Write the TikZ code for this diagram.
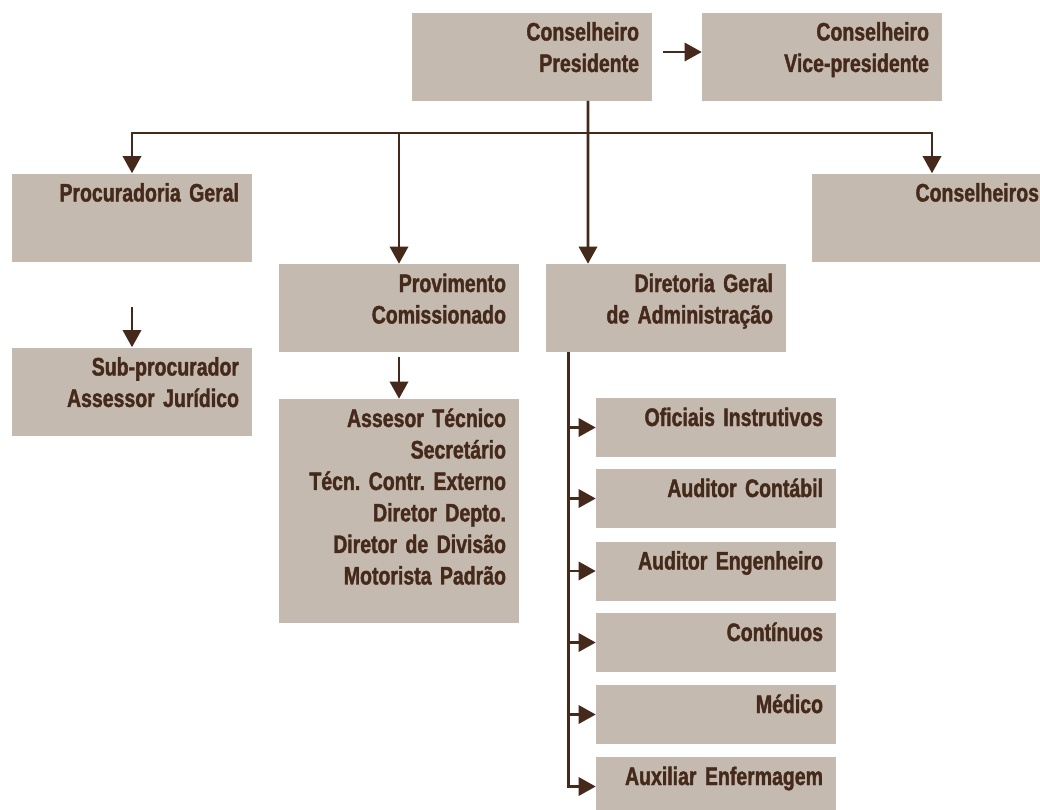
\documentclass[tikz,border=0pt]{standalone}
\usepackage{fontspec}
\usepackage{tikz}
\usetikzlibrary{arrows.meta, positioning, calc}
\newfontfamily\orgfont{Liberation Sans}[FakeStretch=0.77, FakeBold=1.5]
\newcommand{\orgstyle}{\orgfont\bfseries\fontsize{18}{22.4}\selectfont\frenchspacing\setlength{\spaceskip}{0.2em}}
\definecolor{boxfill}{HTML}{C4BAB0}
\definecolor{inkbrown}{HTML}{45291A}

\begin{document}
\begin{tikzpicture}[
    box/.style={
        fill=boxfill,
        text=inkbrown,
        font=\orgstyle,
        align=right,
        text width=5.35cm,
        inner xsep=0.325cm,
        inner ysep=0pt,
        text height=0.7cm,
        text depth=1.5cm
    },
    smallbox/.style={
        box,
        text depth=0.775cm
    },
    arrow/.style={
        -{Triangle[length=0.43cm, width=0.46cm]},
        line width=1.8pt,
        color=inkbrown
    }
]
\useasboundingbox (0,0) rectangle (26,-20.225);

% Top row
\node[box] (pres) at (13.3, -1.4125) {Conselheiro\\Presidente};
\node[box] (vice) at (20.55, -1.4125) {Conselheiro\\Vice-presidente};

% Second row
\node[box] (proc) at (3.3, -5.4375) {Procuradoria Geral};
\node[box] (cons) at (23.3, -5.4375) {Conselheiros};
\node[box] (prov) at (9.975, -7.7) {Provimento\\Comissionado};
\node[box] (dir) at (16.65, -7.7) {Diretoria Geral\\de Administração};

% Lower boxes
\node[box] (sub) at (3.3, -9.7875) {Sub-procurador\\Assessor Jurídico};
\node[box, text depth=4.9cm] (ases) at (9.975, -12.775) {
    Assesor Técnico\\
    Secretário\\
    Técn. Contr. Externo\\
    Diretor Depto.\\
    Diretor de Divisão\\
    Motorista Padrão
};

% Diretoria (Right Column)
\node[smallbox] (c1) at (17.9, -10.6875) {Oficiais Instrutivos};
\node[smallbox] (c2) at (17.9, -12.4625) {Auditor Contábil};
\node[smallbox] (c3) at (17.9, -14.275) {Auditor Engenheiro};
\node[smallbox] (c4) at (17.9, -16.0625) {Contínuos};
\node[smallbox] (c5) at (17.9, -17.8625) {Médico};
\node[smallbox] (c6) at (17.9, -19.6625) {Auxiliar Enfermagem};

\coordinate (bar) at (14.7, -3.325);
\coordinate (trunk) at ([xshift=0.575cm]dir.south west);

% Arrows from the president
\draw[arrow] ($(pres.east)+(0.275,0.1125)$) -- ($(vice.west)+(0,0.1125)$);
\draw[arrow] ([xshift=1.4cm]pres.south) -- (bar |- dir.north);
\draw[arrow] (bar) -| (proc.north);
\draw[arrow] (bar) -| (cons.north);
\draw[arrow] (bar -| prov.north) -- (prov.north);

% Short arrows
\draw[arrow] ([yshift=1cm]sub.north) -- (sub.north);
\draw[arrow] ([yshift=1.05cm]ases.north) -- (ases.north);

% Arrows from dir to its boxes
\foreach \c in {c1, c2, c3, c4, c5, c6} {
    \draw[arrow] (trunk) |- (\c.west);
}

\end{tikzpicture}
\end{document}
